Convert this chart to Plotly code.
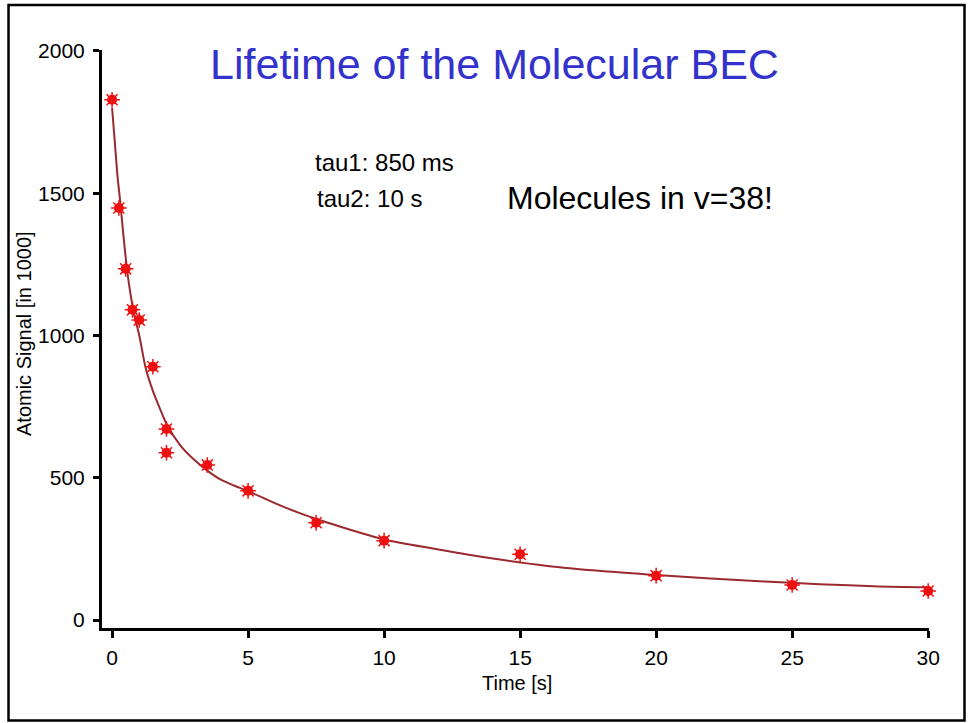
import plotly.graph_objects as go

# Measured atomic signal (in 1000) vs. hold time
time_s = [0, 0.25, 0.5, 0.75, 1.0, 1.5, 2.0, 2.0, 3.5, 5, 7.5, 10, 15, 20, 25, 30]
signal_k = [1828, 1448, 1234, 1090, 1054, 890, 671, 588, 545, 454, 342, 279, 231, 156, 123, 102]

# Double-exponential fit curve (tau1 = 850 ms, tau2 = 10 s), sampled values
fit_t = [0, 0.1, 0.2, 0.3, 0.45, 0.6, 0.8, 1.0, 1.25, 1.5, 1.75, 2.0, 2.5, 3.0, 3.5,
         4.0, 4.5, 5.0, 6.0, 7.0, 8.0, 9.0, 10.0, 12.0, 14.0, 16.0, 18.0, 20.0,
         22.0, 24.0, 26.0, 28.0, 30.0]
fit_signal = [1800, 1680, 1560, 1470, 1320, 1195, 1080, 1000, 880, 805, 745, 690, 615,
              565, 525, 493, 472, 453, 410, 372, 340, 310, 283, 248, 216, 190, 172,
              158, 146, 135, 126, 119, 115]

x_ticks = [0, 5, 10, 15, 20, 25, 30]
y_ticks = [0, 500, 1000, 1500, 2000]

FONT = "Liberation Sans, Arial, sans-serif"

# plot-area pixel geometry (used to place paper-referenced decorations)
L, R, T, B = 102, 929, 50, 628
W, H = 969, 723


def px(x):
    return (x - L) / (R - L)


def py(y):
    return (B - y) / (B - T)


fig = go.Figure()

fig.add_trace(go.Scatter(
    x=fit_t, y=fit_signal, mode="lines", line_shape="spline",
    line=dict(color="#9A2A2E", width=2), hoverinfo="skip", showlegend=False,
    cliponaxis=False,
))
fig.add_trace(go.Scatter(
    x=time_s, y=signal_k, mode="markers",
    marker=dict(symbol="circle", size=10, color="#EE1111", line=dict(width=0)),
    showlegend=False, cliponaxis=False,
))
fig.add_trace(go.Scatter(
    x=time_s, y=signal_k, mode="markers",
    marker=dict(symbol="asterisk-open", size=13, color="#EE1111",
                line=dict(width=1.5, color="#EE1111")),
    hoverinfo="skip", showlegend=False, cliponaxis=False,
))

fig.update_layout(
    width=W, height=H,
    margin=dict(l=L, r=W - R, t=T, b=H - B, pad=0),
    paper_bgcolor="white", plot_bgcolor="white",
    font=dict(family=FONT, color="black"),
    title=dict(text="Lifetime of the Molecular BEC", x=494.5 / W, xref="container",
               xanchor="center", y=1 - 64 / H, yref="container", yanchor="middle",
               font=dict(size=43, color="#3333CC", family=FONT)),
    xaxis=dict(range=[-0.37, 30.03], tickvals=x_ticks, showgrid=False, zeroline=False,
               showline=True, linecolor="black", linewidth=3,
               ticks="outside", ticklen=7, tickwidth=3, tickcolor="black",
               tickfont=dict(size=21, family=FONT), ticklabelstandoff=2),
    yaxis=dict(range=[-28, 2003], tickvals=y_ticks, showgrid=False, zeroline=False,
               showline=True, linecolor="black", linewidth=3,
               ticks="outside", ticklen=6, tickwidth=3, tickcolor="black",
               tickfont=dict(size=21, family=FONT), ticklabelstandoff=4),
    shapes=[dict(type="rect", xref="paper", yref="paper",
                 x0=px(8.5), x1=px(964.5), y0=py(720.5), y1=py(5),
                 line=dict(color="black", width=2.5), layer="above")],
    annotations=[
        dict(text="Time [s]", xref="paper", yref="paper", x=px(517), y=py(683),
             showarrow=False, xanchor="center", yanchor="middle",
             font=dict(size=20, family=FONT)),
        dict(text="Atomic Signal [in 1000]", xref="paper", yref="paper",
             x=px(24), y=py(334), textangle=-90, showarrow=False,
             xanchor="center", yanchor="middle", font=dict(size=20, family=FONT)),
        dict(text="tau1: 850 ms", xref="paper", yref="paper", x=px(313), y=py(162),
             showarrow=False, xanchor="left", yanchor="middle",
             font=dict(size=24, family=FONT)),
        dict(text="tau2: 10 s", xref="paper", yref="paper", x=px(315), y=py(199),
             showarrow=False, xanchor="left", yanchor="middle",
             font=dict(size=24, family=FONT)),
        dict(text="Molecules in v=38!", xref="paper", yref="paper", x=px(505), y=py(198),
             showarrow=False, xanchor="left", yanchor="middle",
             font=dict(size=32, family=FONT)),
    ],
)

fig.write_html("out.html")
